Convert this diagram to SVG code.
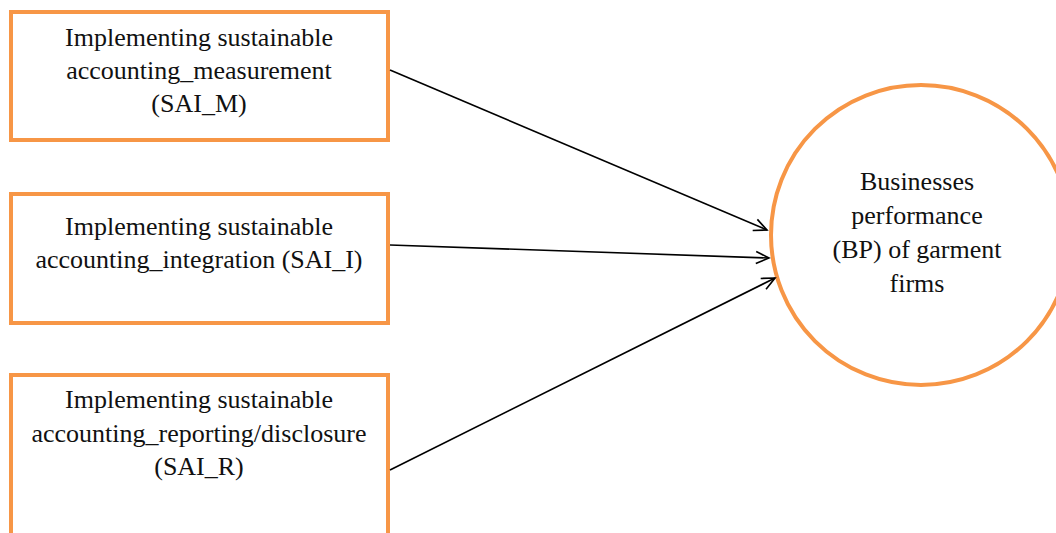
<svg xmlns="http://www.w3.org/2000/svg" width="1056" height="533" viewBox="0 0 1056 533">
<style>
.box{fill:#fff;stroke:#F79646;stroke-width:4}
.t{font-family:"Liberation Serif","Times New Roman",serif;font-size:26px;fill:#111;text-anchor:middle}
.c{fill:none;stroke:#000;stroke-width:1.6}
</style>
<defs>
<marker id="arr" markerUnits="userSpaceOnUse" markerWidth="20" markerHeight="20" refX="14" refY="7" orient="auto" viewBox="0 0 20 14">
<path d="M1,1 L14,7 L1,13" fill="none" stroke="#000" stroke-width="1.6"/>
</marker>
</defs>
<rect width="1056" height="533" fill="#fff"/>
<g id="node-sai-m">
<rect class="box" x="11" y="12" width="377" height="128"/>
<text class="t" x="199" y="46">Implementing sustainable</text>
<text class="t" x="199" y="79">accounting_measurement</text>
<text class="t" x="199" y="112">(SAI_M)</text>
</g>
<g id="node-sai-i">
<rect class="box" x="11" y="194" width="377" height="129"/>
<text class="t" x="199" y="235">Implementing sustainable</text>
<text class="t" x="199" y="268">accounting_integration (SAI_I)</text>
</g>
<g id="node-sai-r">
<rect class="box" x="11" y="375" width="377" height="190"/>
<text class="t" x="199" y="408">Implementing sustainable</text>
<text class="t" x="199" y="442">accounting_reporting/disclosure</text>
<text class="t" x="199" y="475">(SAI_R)</text>
</g>
<g id="node-bp">
<circle cx="921" cy="235" r="150" fill="#fff" stroke="#F79646" stroke-width="4"/>
<text class="t" x="917" y="190">Businesses</text>
<text class="t" x="917" y="224">performance</text>
<text class="t" x="917" y="258">(BP) of garment</text>
<text class="t" x="917" y="292">firms</text>
</g>
<g id="connectors">
<line class="c" x1="390" y1="70" x2="767" y2="230" marker-end="url(#arr)"/>
<line class="c" x1="390" y1="245" x2="769" y2="258" marker-end="url(#arr)"/>
<line class="c" x1="390" y1="470" x2="775" y2="278" marker-end="url(#arr)"/>
</g>
</svg>
